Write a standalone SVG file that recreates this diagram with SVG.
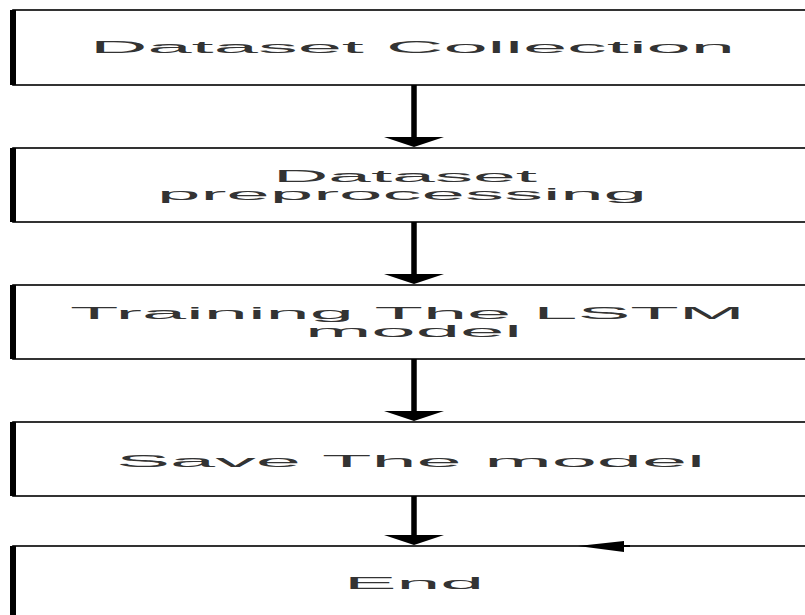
<svg xmlns="http://www.w3.org/2000/svg" width="805" height="615" viewBox="0 0 805 615">
<style>
.box{fill:#fff;stroke:#000;stroke-width:1.6}
.bar{fill:#000}
.t{font-family:"Liberation Sans",Arial,sans-serif;font-size:16px;fill:#333}
.ln{stroke:#000;stroke-width:5.5;fill:none}
.ah{fill:#000}
</style>
<rect width="805" height="615" fill="#fff"/>
<g id="n1">
<rect class="box" x="13" y="10" width="800" height="75"/>
<rect class="bar" x="10" y="10" width="6" height="75"/>
<text class="t" x="90" y="53" textLength="645" lengthAdjust="spacingAndGlyphs">Dataset Collection</text>
</g>
<g id="n2">
<rect class="box" x="13" y="148" width="800" height="74"/>
<rect class="bar" x="10" y="148" width="6" height="74"/>
<text class="t" x="273" y="182" textLength="264" lengthAdjust="spacingAndGlyphs">Dataset</text>
<text class="t" x="157" y="200" textLength="490" lengthAdjust="spacingAndGlyphs">preprocessing</text>
</g>
<g id="n3">
<rect class="box" x="13" y="285" width="800" height="74"/>
<rect class="bar" x="10" y="285" width="6" height="74"/>
<text class="t" x="70" y="319" textLength="675" lengthAdjust="spacingAndGlyphs">Training The LSTM</text>
<text class="t" x="305" y="337" textLength="217" lengthAdjust="spacingAndGlyphs">model</text>
</g>
<g id="n4">
<rect class="box" x="13" y="422" width="800" height="74"/>
<rect class="bar" x="10" y="422" width="6" height="74"/>
<text class="t" x="116" y="467" textLength="589" lengthAdjust="spacingAndGlyphs">Save The model</text>
</g>
<g id="n5">
<rect class="box" x="13" y="546" width="800" height="80"/>
<rect class="bar" x="10" y="546" width="6" height="80"/>
<text class="t" x="344" y="589" textLength="140" lengthAdjust="spacingAndGlyphs">End</text>
</g>
<g id="connectors">
<line class="ln" x1="414" y1="85" x2="414" y2="140"/>
<path class="ah" d="M384,137 L444,137 L414,147 Z"/>
<line class="ln" x1="414" y1="222" x2="414" y2="277"/>
<path class="ah" d="M384,274 L444,274 L414,284 Z"/>
<line class="ln" x1="414" y1="359" x2="414" y2="414"/>
<path class="ah" d="M384,411 L444,411 L414,421 Z"/>
<line class="ln" x1="414" y1="496" x2="414" y2="538"/>
<path class="ah" d="M384,535 L444,535 L414,545 Z"/>
<path class="ah" d="M578,546 L624,541 L624,552 Z"/>
<line x1="620" y1="546" x2="630" y2="546" stroke="#000" stroke-width="2"/>
</g>
</svg>
